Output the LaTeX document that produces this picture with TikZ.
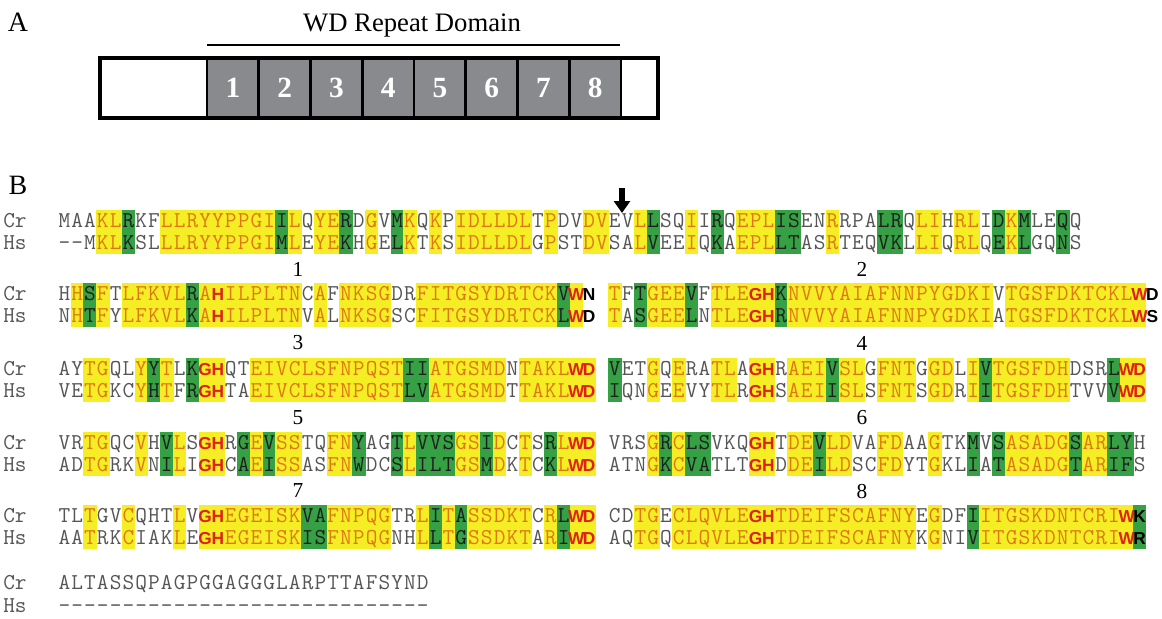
\documentclass[tikz,border=0pt]{standalone}
\usepackage{fontspec}
\setmainfont{Liberation Serif}
\newfontfamily\boldsans{Liberation Sans}
\usetikzlibrary{arrows.meta,positioning}

\definecolor{hlyellow}{RGB}{246,238,36}
\definecolor{hlgreen}{RGB}{54,160,68}
\definecolor{resorange}{RGB}{222,120,22}
\definecolor{resgray}{RGB}{85,85,85}
\definecolor{resdark}{RGB}{30,30,30}
\definecolor{resred}{RGB}{222,32,22}
\definecolor{boxgray}{RGB}{136,138,142}

\tikzset{
  resbase/.style={inner sep=0pt,text height=10.3pt,text depth=0pt,font=\ttfamily\fontsize{17}{18}\selectfont},
  resplain/.style={resbase,text=resgray},
  resident/.style={resbase,text=resorange},
  ressimil/.style={resbase,text=resdark},
  resmotif/.style={resbase,text=resred,font=\boldsans\bfseries\fontsize{13}{14}\selectfont},
  restag/.style={resbase,text=black,font=\boldsans\bfseries\fontsize{13}{14}\selectfont},
  rescur/.style={resplain},
  rowlab/.style={resplain,anchor=west},
  repnum/.style={inner sep=0pt,font=\fontsize{16}{18}\selectfont},
  panel/.style={inner sep=0pt,font=\fontsize{21}{24}\selectfont},
  wdbox/.style={draw=black,line width=2.2pt,fill=boxgray,minimum width=38.8pt,minimum height=45pt,
    inner sep=0pt,text=white,font=\bfseries\fontsize{22}{24}\selectfont}
}

% one aligned pair: row id, first column, y of Cr, y of Hs, Cr, Hs, mask
% mask: . none, y identical, g similar, r motif, k bold end, K bold end on green
\newcount\rescol
\newif\iffillpass
\def\popres#1#2\endpop#3#4{\def#3{#1}\def#4{#2}}
\newcommand\alignblock[7]{%
  \def\blockrow{#1}\def\ycr{#3}\def\yhs{#4}%
  \fillpasstrue
  \rescol=#2\relax
  \def\restA{#5}\def\restB{#6}\def\restM{#7}%
  \resloop
  \fillpassfalse
  \rescol=#2\relax
  \def\restA{#5}\def\restB{#6}\def\restM{#7}%
  \resloop}
\def\resloop{%
  \ifx\restA\empty\else
    \expandafter\popres\restA\endpop\chA\restA
    \expandafter\popres\restB\endpop\chB\restB
    \expandafter\popres\restM\endpop\chM\restM
    \drawres
    \advance\rescol by 1\relax
    \expandafter\resloop
  \fi}
\def\drawres{%
  \def\resbg{}\tikzset{rescur/.style={resplain}}%
  \if\chM y\def\resbg{hlyellow}\tikzset{rescur/.style={resident}}\fi
  \if\chM g\def\resbg{hlgreen}\tikzset{rescur/.style={ressimil}}\fi
  \if\chM r\def\resbg{hlyellow}\tikzset{rescur/.style={resmotif}}\fi
  \if\chM k\tikzset{rescur/.style={restag}}\fi
  \if\chM K\def\resbg{hlgreen}\tikzset{rescur/.style={restag}}\fi
  \pgfmathsetmacro\resx{58+12.8*\the\rescol}%
  \iffillpass
    \ifx\resbg\empty\else
      \fill[fill=\resbg] (\resx-0.3,\ycr-11) rectangle (\resx+13.1,\yhs+11);
    \fi
  \else
    \node[rescur] (cr\blockrow-\the\rescol) at (\resx+6.4,\ycr) {\chA};
    \node[rescur] (hs\blockrow-\the\rescol) at (\resx+6.4,\yhs) {\chB};
  \fi
}

\begin{document}
\begin{tikzpicture}[x=0.75pt,y=-0.75pt]
\useasboundingbox (0,0) rectangle (1162,618);
% A
\node[panel,anchor=base] (labA) at (18,31) {A};
\node[inner sep=0pt,anchor=base,font=\fontsize{20}{24}\selectfont] (wdtitle) at (412,31) {WD Repeat Domain};
\coordinate (wdl) at (207,45);
\coordinate (wdr) at (620,45);
\draw[line width=2.2pt] (wdl) -- (wdr);
\foreach \i in {1,...,8}
  \node[wdbox] (box\i) at ({207+51.75*(\i-0.5)},88) {\i};
\draw[line width=3pt] (100,58) rectangle (658,118);
% B
\node[panel,anchor=base] (labB) at (18,194) {B};
\coordinate (arrtop) at (622,188);
\coordinate (arrtip) at (622,213);
\draw[line width=4.5pt,-{Triangle[length=9pt,width=12pt]}] (arrtop) -- (arrtip);
\foreach \r/\yc/\yh in {1/221/243,2/294/316,3/369/391,4/443/465,5/516/538,6/583/606}{
  \node[rowlab] (crlab\r) at (3,\yc) {Cr};
  \node[rowlab] (hslab\r) at (3,\yh) {Hs};
}
\foreach \n/\nx/\ny in {1/298/269,2/862/269,3/298/343,4/862/343,5/298/418,6/862/418,7/298/491,8/862/491}
  \node[repnum] (rep\n) at (\nx,\ny) {\n};
%%
\alignblock{1}{0}{221}{243}
  {MAAKLRKFLLRYYPPGIILQYERDGVMKQKPIDLLDLTPDVDVEVLLSQIIRQEPLISENRRPALRQLIHRLIDKMLEQQ}
  {--MKLKSLLLRYYPPGIMLEYEKHGELKTKSIDLLDLGPSTDVSALVEEIQKAEPLLTASRTEQVKLLIQRLQEKLGQNS}
  {...yyg..yyyyyyyyygy.yyg.y.gy.y.yyyyyy.y..yy..yg..y.g.yyygg..y...gg.yy.yy.gyg..g.}
\alignblock{2a}{0}{294}{316}
  {HHSFTLFKVLRAHILPLTNCAFNKSGDRFITGSYDRTCKVWN}
  {NHTFYLFKVLKAHILPLTNVALNKSGSCFITGSYDRTCKLWD}
  {.ygy.yyyyygyryyyyyy.y.yyyy..yyyyyyyyyyygrk}
\alignblock{2b}{43}{294}{316}
  {TFTGEEVFTLEGHKNVVYAIAFNNPYGDKIVTGSFDKTCKLWD}
  {TASGEELNTLEGHRNVVYAIAFNNPYGDKIATGSFDKTCKLWS}
  {y.gyyyg.yyyrrgyyyyyyyyyyyyyyyy.yyyyyyyyyyrk}
\alignblock{3a}{0}{369}{391}
  {AYTGQLYYTLKGHQTEIVCLSFNPQSTIIATGSMDNTAKLWD}
  {VETGKCYHTFRGHTAEIVCLSFNPQSTLVATGSMDTTAKLWD}
  {..yy..ygy.grr..yyyyyyyyyyyyggyyyyyy.yyyyrr}
\alignblock{3b}{43}{369}{391}
  {VETGQERATLAGHRAEIVSLGFNTGGDLIVTGSFDHDSRLWD}
  {IQNGEEVYTLRGHSAEIISLSFNTSGDRIITGSFDHTVVVWD}
  {g..y.y..yy.rr.yyygyy.yyy.yy.ygyyyyyy...grr}
\alignblock{4a}{0}{443}{465}
  {VRTGQCVHVLSGHRGEVSSTQFNYAGTLVVSGSIDCTSRLWD}
  {ADTGRKVNILIGHCAEISSASFNWDCSLILTGSMDKTCKLWD}
  {..yy..y.gy.rr.gygyy..yyg..gygggyygy.y.gyrr}
\alignblock{4b}{43}{443}{465}
  {VRSGRCLSVKQGHTDEVLDVAFDAAGTKMVSASADGSARLYH}
  {ATNGKCVATLTGHDDEILDSCFDYTGKLIATASADGTARIFS}
  {...ygygg...rr.yygyy..yy..y..g.gyyyyygyygg.}
\alignblock{5a}{0}{516}{538}
  {TLTGVCQHTLVGHEGEISKVAFNPQGTRLITASSDKTCRLWD}
  {AATRKCIAKLEGHEGEISKISFNPQGNHLLTGSSDKTARIWD}
  {..y..y...y.rryyyyyyggyyyyy..ygygyyyyy.ygrr}
\alignblock{5b}{43}{516}{538}
  {CDTGECLQVLEGHTDEIFSCAFNYEGDFIITGSKDNTCRIWK}
  {AQTGQCLQVLEGHTDEIFSCAFNYKGNIVITGSKDNTCRIWR}
  {..yy.yyyyyyrryyyyyyyyyyy.y..gyyyyyyyyyyyrK}
\alignblock{6}{0}{583}{606}
  {ALTASSQPAGPGGAGGGLARPTTAFSYND}
  {-----------------------------}
  {.............................}
\end{tikzpicture}
\end{document}
